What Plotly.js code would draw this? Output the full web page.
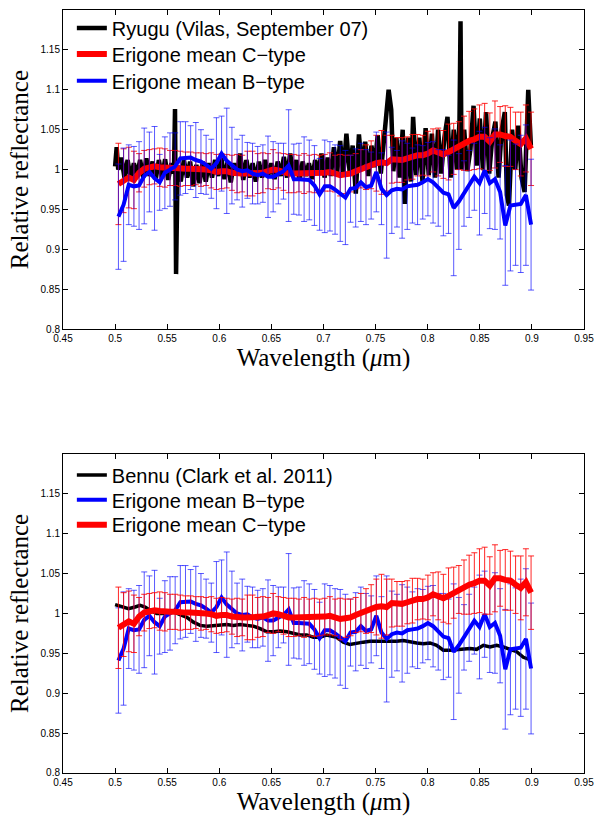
<!DOCTYPE html>
<html>
<head>
<meta charset="utf-8">
<script src="https://cdn.plot.ly/plotly-3.0.1.min.js"></script>
<style>html,body{margin:0;padding:0;background:#fff;}#chart{width:607px;height:816px;}</style>
</head>
<body>
<div id="chart"></div>
<script>
// Erigone family mean spectra (shared by both panels)
const erigoneWl = [0.5032,0.50815,0.5131,0.51805,0.523,0.52795,0.5329,0.53785,0.5428,0.54775,
0.5527,0.55765,0.5626,0.56755,0.5725,0.57745,0.5824,0.58735,0.5923,0.59725,
0.6022,0.60715,0.6121,0.61705,0.622,0.62695,0.6319,0.63685,0.6418,0.64675,
0.6517,0.65665,0.6616,0.66655,0.6715,0.67645,0.6814,0.68635,0.6913,0.69625,
0.7012,0.70615,0.7111,0.71605,0.721,0.72595,0.7309,0.73585,0.7408,0.74575,
0.7507,0.75565,0.7606,0.76555,0.7705,0.77545,0.7804,0.78535,0.7903,0.79525,
0.8002,0.80515,0.8101,0.81505,0.82,0.82495,0.8299,0.83485,0.8398,0.84475,
0.8497,0.85465,0.8596,0.86455,0.8695,0.87445,0.8794,0.88435,0.8893,0.89425,0.8992];

const cTypeMean = [0.982,0.986,0.990,0.987,0.996,1.001,1.003,1.004,1.003,1.002,
1.002,1.002,1.001,1.001,1.001,1.001,1.000,1.000,0.999,0.997,
0.998,0.998,0.996,0.995,0.995,0.995,0.995,0.995,0.996,0.998,
1.000,0.999,0.997,0.995,0.995,0.995,0.995,0.995,0.995,0.995,
0.996,0.997,0.995,0.993,0.994,0.995,0.998,1.001,1.003,1.006,
1.008,1.009,1.008,1.013,1.012,1.012,1.014,1.016,1.018,1.018,
1.020,1.024,1.022,1.019,1.022,1.026,1.030,1.033,1.036,1.038,
1.041,1.041,1.035,1.044,1.044,1.042,1.041,1.036,1.032,1.039,1.026];

const cTypeErr = [0.051,0.040,0.038,0.036,0.024,0.023,0.022,0.022,0.024,0.024,
0.022,0.022,0.022,0.021,0.021,0.020,0.021,0.020,0.022,0.022,
0.022,0.021,0.022,0.024,0.023,0.028,0.028,0.025,0.025,0.022,
0.025,0.022,0.023,0.024,0.024,0.023,0.025,0.023,0.024,0.023,
0.023,0.024,0.023,0.026,0.024,0.023,0.022,0.024,0.028,0.030,
0.035,0.040,0.035,0.030,0.028,0.028,0.027,0.028,0.026,0.025,
0.028,0.027,0.030,0.030,0.035,0.032,0.030,0.034,0.037,0.038,
0.040,0.042,0.036,0.042,0.035,0.038,0.037,0.036,0.040,0.042,0.046];

const bTypeMean = [0.941,0.956,0.981,0.979,0.980,0.992,0.997,0.989,0.984,0.996,
1.000,1.004,1.014,1.015,1.015,1.012,1.010,1.006,1.001,1.008,
1.020,1.011,1.005,1.000,0.998,0.999,0.995,0.993,0.995,0.991,
0.991,0.995,0.998,1.005,0.988,0.988,0.988,0.987,0.980,0.969,
0.979,0.979,0.975,0.970,0.965,0.976,0.977,0.984,0.978,0.980,
0.997,0.976,0.968,0.974,0.976,0.975,0.979,0.980,0.981,0.984,
0.988,0.984,0.977,0.971,0.969,0.952,0.960,0.970,0.982,0.991,
0.983,0.999,0.983,0.988,0.972,0.930,0.955,0.956,0.957,0.968,0.931];

const bTypeErr = [0.066,0.071,0.050,0.050,0.055,0.060,0.050,0.065,0.035,0.045,
0.046,0.042,0.046,0.045,0.040,0.047,0.040,0.037,0.037,0.057,
0.047,0.066,0.048,0.038,0.045,0.035,0.038,0.036,0.036,0.051,
0.044,0.038,0.035,0.070,0.044,0.045,0.053,0.050,0.050,0.045,
0.058,0.056,0.056,0.060,0.059,0.042,0.049,0.049,0.047,0.042,
0.050,0.045,0.079,0.054,0.048,0.061,0.054,0.047,0.050,0.046,
0.046,0.051,0.048,0.054,0.049,0.085,0.060,0.041,0.042,0.042,
0.065,0.054,0.057,0.063,0.059,0.075,0.082,0.076,0.086,0.088,0.082];

// Ryugu (Vilas, September 07)
const ryuguWl = [0.500,0.5015,0.503,0.506,0.509,0.512,0.515,0.518,0.521,0.524,
0.527,0.530,0.533,0.536,0.539,0.542,0.545,0.548,0.551,0.554,
0.5565,0.5575,0.5585,0.560,0.563,0.566,0.569,0.572,0.575,0.578,
0.581,0.584,0.587,0.590,0.593,0.596,0.599,0.602,0.605,0.608,
0.611,0.614,0.617,0.620,0.623,0.626,0.629,0.632,0.635,0.638,
0.641,0.644,0.647,0.650,0.653,0.656,0.659,0.662,0.665,0.668,
0.671,0.674,0.677,0.680,0.683,0.686,0.689,0.692,0.695,0.698,
0.701,0.704,0.707,0.710,0.713,0.716,0.719,0.722,0.725,0.728,
0.731,0.734,0.737,0.740,0.743,0.746,0.749,0.752,0.755,0.758,
0.760,0.7625,0.765,0.767,0.770,0.773,0.776,0.778,0.781,0.784,
0.786,0.789,0.792,0.795,0.798,0.801,0.804,0.807,0.810,0.813,
0.816,0.819,0.822,0.825,0.828,0.8305,0.8315,0.8325,0.835,0.838,
0.841,0.844,0.847,0.850,0.853,0.856,0.859,0.862,0.865,0.868,
0.871,0.874,0.876,0.878,0.881,0.884,0.887,0.890,0.893,0.8965,0.899];

const ryuguRefl = [1.004,1.028,1.000,1.015,0.990,1.012,0.988,1.008,0.993,1.012,
0.990,1.014,0.992,1.010,0.988,1.012,0.990,1.013,0.987,1.008,
0.995,1.076,0.869,1.005,0.985,1.012,0.990,1.010,0.979,1.006,
0.983,1.010,0.985,1.008,0.990,1.012,0.992,1.014,0.988,1.010,
0.984,1.008,0.993,1.020,0.987,1.012,0.990,1.008,0.985,1.010,
0.990,1.012,0.993,1.008,0.988,1.010,0.992,1.016,0.990,1.020,
0.993,1.012,0.987,1.010,0.992,1.008,0.988,1.012,0.995,1.020,
0.990,1.015,0.992,1.028,0.995,1.036,0.993,1.045,0.998,1.030,
0.970,1.044,1.000,1.035,0.992,1.030,1.003,1.043,0.995,1.030,
1.065,1.100,1.075,0.998,1.040,0.990,1.050,0.957,1.040,0.985,
1.066,0.993,1.040,0.985,1.052,0.993,1.045,0.990,1.050,0.995,
1.040,1.066,0.990,1.050,1.000,1.060,1.186,1.000,1.050,0.998,
1.025,1.080,1.005,1.064,1.000,1.072,0.995,1.040,1.060,0.990,
1.050,1.072,0.968,0.955,1.050,1.000,1.055,0.990,0.972,1.100,1.030];

// Bennu (Clark et al. 2011)
const bennuWl = [0.5000,0.5064,0.5128,0.5192,0.5240,0.5288,0.5336,0.5400,0.5496,0.5560,
0.5624,0.5688,0.5752,0.5816,0.5880,0.5944,0.6008,0.6072,0.6136,0.6200,
0.6264,0.6328,0.6392,0.6456,0.6520,0.6584,0.6648,0.6712,0.6776,0.6840,
0.6904,0.6968,0.7032,0.7126,0.7190,0.7254,0.7318,0.7382,0.7446,0.7510,
0.7574,0.7638,0.7702,0.7766,0.7830,0.7894,0.7958,0.8022,0.8086,0.8150,
0.8214,0.8278,0.8342,0.8406,0.8470,0.8534,0.8598,0.8662,0.8726,0.8790,
0.8854,0.8918,0.8981];
const bennuRefl = [1.011,1.008,1.006,1.008,1.010,1.008,1.004,1.000,1.000,1.002,
0.999,0.995,0.989,0.985,0.984,0.985,0.986,0.986,0.985,0.986,
0.985,0.984,0.981,0.977,0.977,0.978,0.977,0.975,0.973,0.973,
0.970,0.970,0.973,0.970,0.964,0.961,0.963,0.964,0.965,0.965,
0.964,0.964,0.965,0.966,0.964,0.963,0.962,0.963,0.960,0.954,
0.954,0.955,0.955,0.956,0.955,0.960,0.958,0.960,0.958,0.955,
0.952,0.945,0.942];

const xTicks = [0.45,0.5,0.55,0.6,0.65,0.7,0.75,0.8,0.85,0.9,0.95];
const yTicks = [0.8,0.85,0.9,0.95,1,1.05,1.1,1.15];

const labels = {
  ryugu: 'Ryugu (Vilas, September 07)',
  bennu: 'Bennu (Clark et al. 2011)',
  cType: 'Erigone mean C\u2212type',
  bType: 'Erigone mean B\u2212type'
};

const RED = '#ff0000', BLUE = '#0000ff', BLACK = '#000000';
const redBar = {type:'data', array:cTypeErr, visible:true, color:'rgba(255,0,0,0.85)', thickness:1, width:3};
const blueBar = {type:'data', array:bTypeErr, visible:true, color:'rgba(0,0,255,0.65)', thickness:1, width:3};

const traces = [
  // top panel
  {x:ryuguWl, y:ryuguRefl, xaxis:'x', yaxis:'y', mode:'lines', name:labels.ryugu,
   line:{color:BLACK, width:4.5}, legend:'legend'},
  {x:erigoneWl, y:cTypeMean, xaxis:'x', yaxis:'y', mode:'lines', name:labels.cType,
   line:{color:RED, width:6}, error_y:redBar, legend:'legend2'},
  {x:erigoneWl, y:bTypeMean, xaxis:'x', yaxis:'y', mode:'lines', name:labels.bType,
   line:{color:BLUE, width:4}, error_y:blueBar, legend:'legend3'},
  // bottom panel
  {x:bennuWl, y:bennuRefl, xaxis:'x2', yaxis:'y2', mode:'lines', name:labels.bennu,
   line:{color:BLACK, width:3.5}, legend:'legend4'},
  {x:erigoneWl, y:bTypeMean, xaxis:'x2', yaxis:'y2', mode:'lines', name:labels.bType,
   line:{color:BLUE, width:4}, error_y:blueBar, legend:'legend5'},
  {x:erigoneWl, y:cTypeMean, xaxis:'x2', yaxis:'y2', mode:'lines', name:labels.cType,
   line:{color:RED, width:6}, error_y:redBar, legend:'legend6'}
];

const tickFont = {family:'Liberation Sans, Arial, sans-serif', size:10, color:'#000'};
const titleFont = {family:'Liberation Serif, Times New Roman, serif', size:25, color:'#000'};

function xAxis(anchor){
  return {anchor:anchor, domain:[0,1], range:[0.45,0.95], tickmode:'array', tickvals:xTicks,
    ticks:'inside', ticklen:5, tickwidth:1, tickcolor:'#000', showline:true, linecolor:'#000',
    linewidth:1, mirror:'ticks', showgrid:false, zeroline:false, tickfont:tickFont,
    title:{text:'Wavelength (<i>\u03bc</i>m)', font:titleFont, standoff:2}};
}
function yAxis(anchor, domain){
  return {anchor:anchor, domain:domain, range:[0.8,1.2], tickmode:'array', tickvals:yTicks,
    ticks:'inside', ticklen:5, tickwidth:1, tickcolor:'#000', showline:true, linecolor:'#000',
    linewidth:1, mirror:'ticks', showgrid:false, zeroline:false, tickfont:tickFont,
    title:{text:'Relative reflectance', font:titleFont, standoff:4}};
}
const legFont = {family:'Liberation Sans, Arial, sans-serif', size:20, color:'#000'};
function leg(y){
  return {x:0.017, y:y, xanchor:'left', yanchor:'middle', bgcolor:'rgba(0,0,0,0)',
    borderwidth:0, font:legFont, itemwidth:30};
}

const layout = {
  width:607, height:816, margin:{l:63, r:23, t:8, b:43},
  paper_bgcolor:'#fff', plot_bgcolor:'#fff', showlegend:true,
  xaxis:xAxis('y'), yaxis:yAxis('x',[0.5817,1]),
  xaxis2:xAxis('y2'), yaxis2:yAxis('x2',[0,0.4183]),
  legend:leg(0.9765), legend2:leg(0.9422), legend3:leg(0.9072),
  legend4:leg(0.3905), legend5:leg(0.3582), legend6:leg(0.3255)
};

Plotly.newPlot('chart', traces, layout, {displayModeBar:false, staticPlot:true});
</script>
</body>
</html>
